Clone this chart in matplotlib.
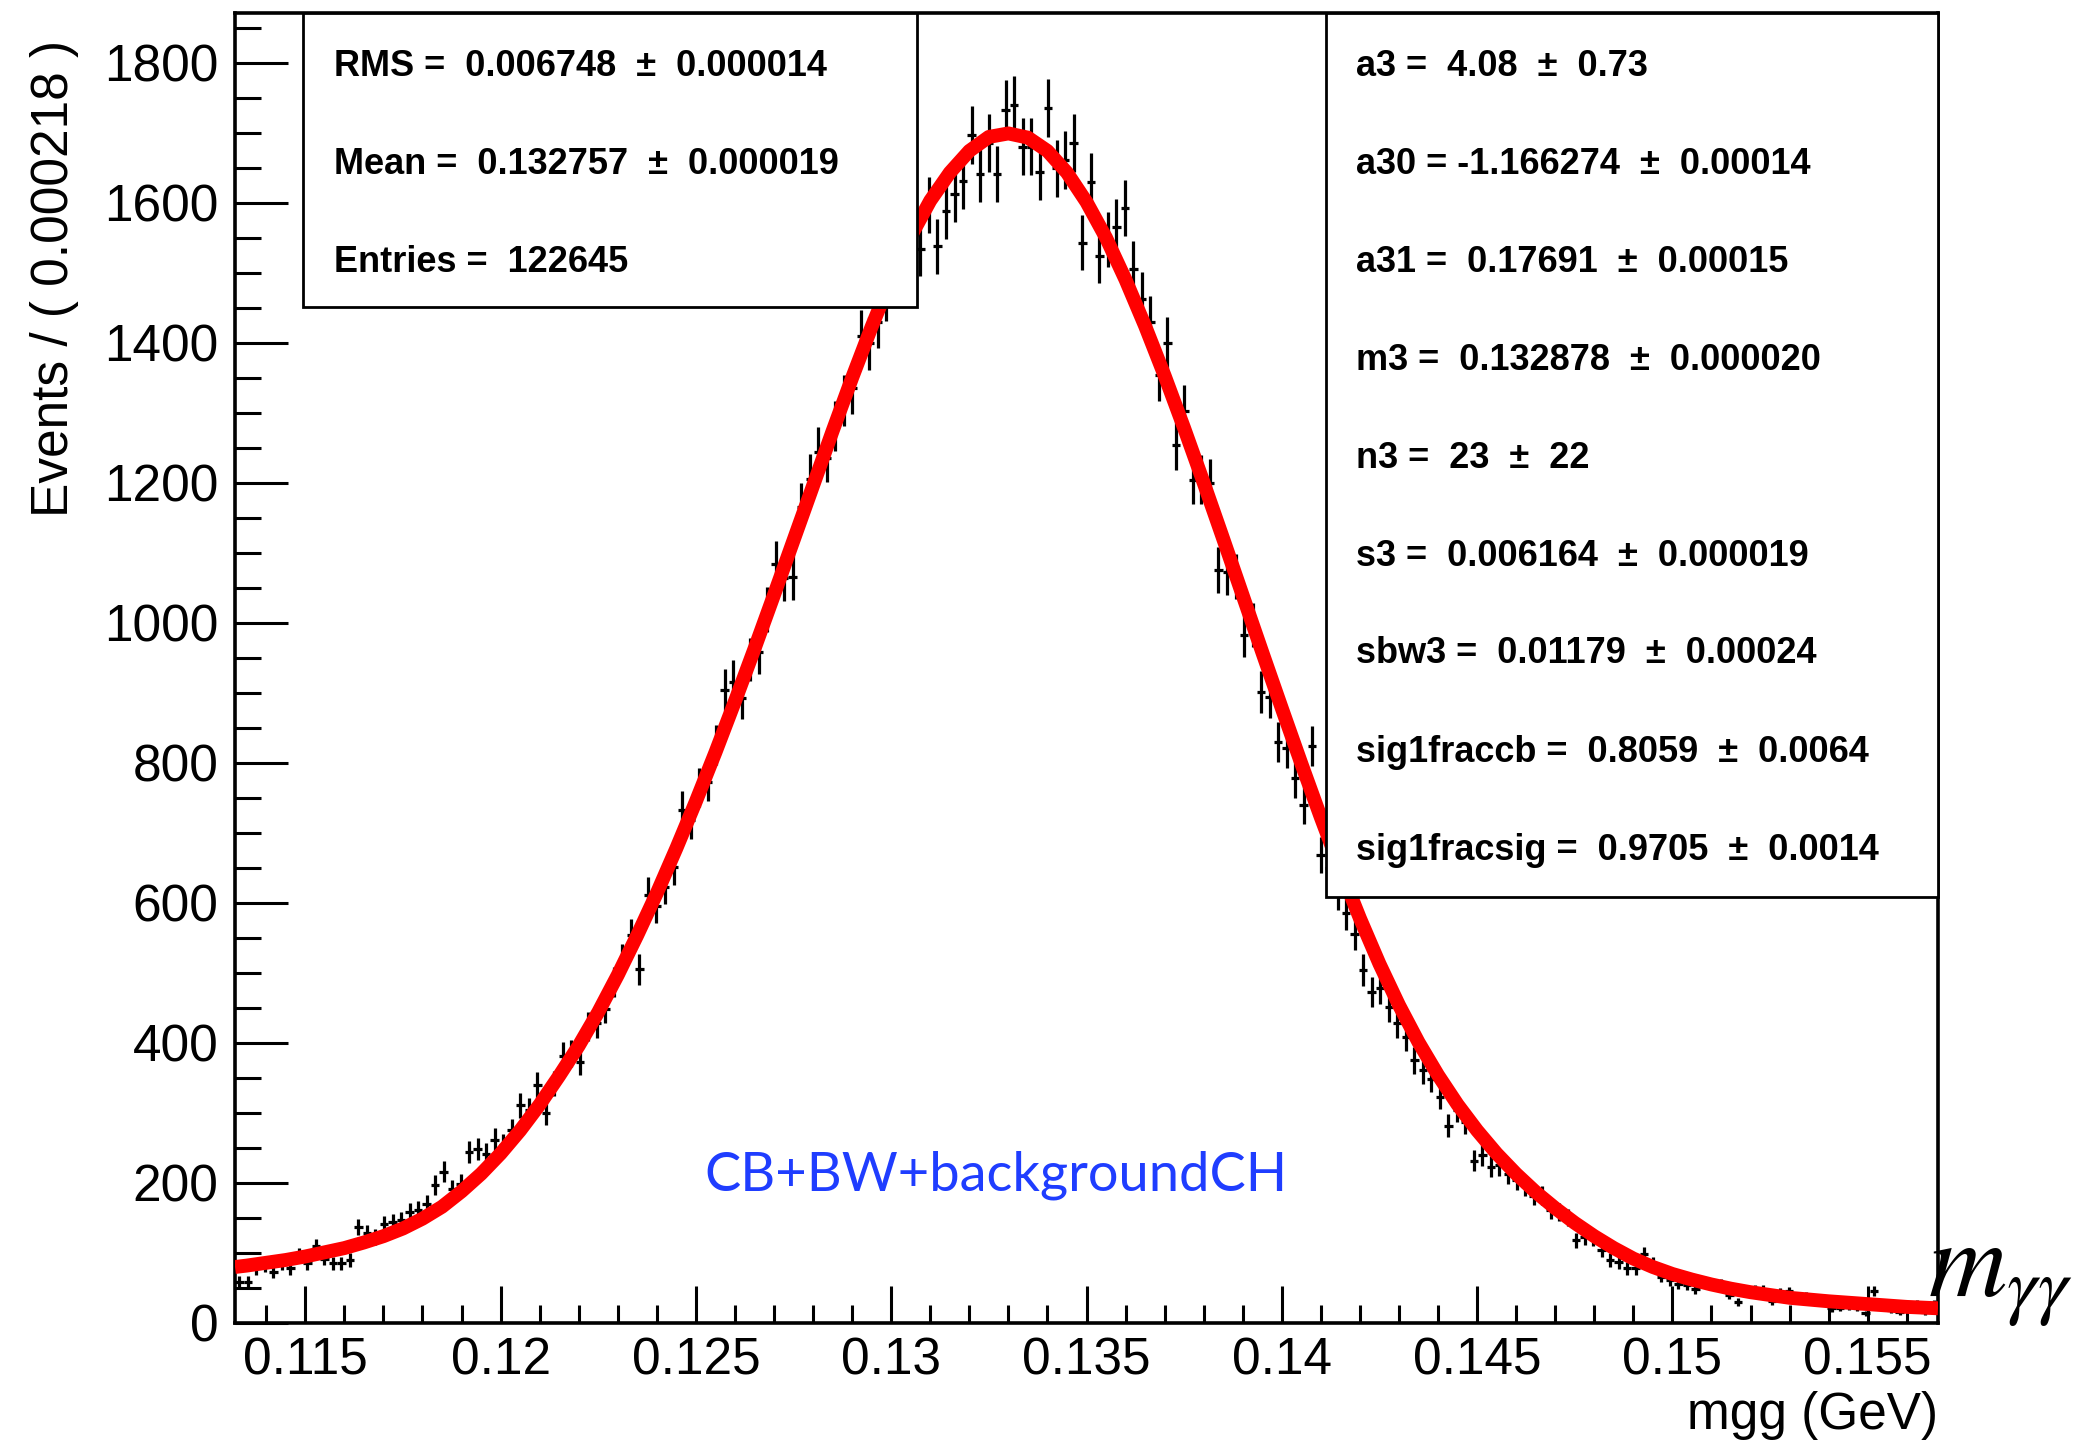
import numpy as np
import matplotlib
matplotlib.use("Agg")
import matplotlib.pyplot as plt
from matplotlib.patches import Rectangle

plt.rcParams['font.family'] = ['Liberation Sans', 'DejaVu Sans']
plt.rcParams['mathtext.fontset'] = 'stix'

# histogram: 200 bins of 0.000218 from 0.1132
x_lo = 0.1132
bin_w = 0.000218
counts = [59, 59, 78, 82, 73, 85, 78, 97, 85, 110,
          92, 85, 85, 90, 137, 128, 123, 141, 144, 147,
          159, 161, 170, 197, 216, 191, 199, 244, 249, 242,
          262, 254, 275, 311, 304, 340, 300, 342, 382, 385,
          373, 423, 428, 449, 487, 518, 554, 505, 612, 595,
          623, 651, 733, 718, 765, 773, 825, 904, 916, 893,
          948, 958, 1019, 1084, 1064, 1065, 1165, 1206, 1244, 1236,
          1281, 1317, 1335, 1409, 1399, 1430, 1470, 1500, 1525, 1545,
          1534, 1597, 1538, 1588, 1612, 1631, 1697, 1641, 1685, 1641,
          1733, 1740, 1680, 1680, 1644, 1735, 1649, 1661, 1685, 1543,
          1630, 1524, 1548, 1566, 1592, 1506, 1463, 1429, 1354, 1400,
          1254, 1303, 1204, 1205, 1200, 1076, 1073, 1066, 982, 997,
          901, 894, 830, 821, 778, 740, 824, 668, 650, 615,
          585, 556, 504, 473, 478, 451, 428, 409, 375, 361,
          349, 323, 282, 304, 287, 232, 240, 223, 225, 213,
          204, 195, 182, 182, 161, 159, 151, 118, 123, 121,
          104, 90, 87, 78, 78, 99, 85, 66, 61, 56,
          54, 49, 59, 56, 55, 40, 30, 47, 47, 47,
          32, 44, 45, 38, 38, 35, 34, 21, 22, 23,
          22, 14, 46, 29, 18, 16, 22, 28, 16, 27]

# fitted pdf (CB+BW+background)
fit_x = [0.1132, 0.1135, 0.114, 0.1145, 0.115, 0.1155, 0.116, 0.1165, 0.117, 0.1175,
         0.118, 0.1185, 0.119, 0.1195, 0.120, 0.1205, 0.121, 0.1215, 0.122, 0.1225,
         0.123, 0.1235, 0.124, 0.1245, 0.125, 0.1255, 0.126, 0.1265, 0.127, 0.1275,
         0.128, 0.1285, 0.129, 0.1295, 0.130, 0.1305, 0.131, 0.1315, 0.132, 0.1325,
         0.133, 0.1335, 0.134, 0.1345, 0.135, 0.1355, 0.136, 0.1365, 0.137, 0.1375,
         0.138, 0.1385, 0.139, 0.1395, 0.140, 0.1405, 0.141, 0.1415, 0.142, 0.1425,
         0.143, 0.1435, 0.144, 0.1445, 0.145, 0.1455, 0.146, 0.1465, 0.147, 0.1475,
         0.148, 0.1485, 0.149, 0.1495, 0.150, 0.1505, 0.151, 0.1515, 0.152, 0.153,
         0.154, 0.155, 0.156, 0.1568]
fit_y = [80, 82, 86, 90, 95, 101, 107, 115, 124, 135,
         149, 166, 188, 213, 242, 275, 312, 353, 396, 444,
         497, 554, 614, 678, 745, 815, 888, 963, 1040, 1118,
         1196, 1274, 1350, 1423, 1491, 1552, 1603, 1643, 1674, 1694,
         1699, 1693, 1674, 1643, 1601, 1550, 1490, 1424, 1353, 1278,
         1200, 1120, 1039, 958, 878, 799, 722, 648, 578, 513,
         454, 401, 354, 312, 275, 242, 213, 187, 164, 143,
         124, 107, 92, 80, 70, 62, 55, 49, 44, 36,
         31, 27, 23, 21]

stats_lines = ["RMS =  0.006748  \u00b1  0.000014",
               "Mean =  0.132757  \u00b1  0.000019",
               "Entries =  122645"]
param_lines = ["a3 =  4.08  \u00b1  0.73",
               "a30 = -1.166274  \u00b1  0.00014",
               "a31 =  0.17691  \u00b1  0.00015",
               "m3 =  0.132878  \u00b1  0.000020",
               "n3 =  23  \u00b1  22",
               "s3 =  0.006164  \u00b1  0.000019",
               "sbw3 =  0.01179  \u00b1  0.00024",
               "sig1fraccb =  0.8059  \u00b1  0.0064",
               "sig1fracsig =  0.9705  \u00b1  0.0014"]

W, H = 2086, 1447


def fx(X):
    return X / W


def fy(Y):
    return 1 - Y / H


fig = plt.figure(figsize=(W / 100, H / 100), dpi=100)
ax = fig.add_axes([fx(235), fy(1323), fx(1938) - fx(235), fy(13) - fy(1323)])

centers = x_lo + (np.arange(len(counts)) + 0.5) * bin_w
c = np.array(counts, dtype=float)
ax.errorbar(centers, c, yerr=np.sqrt(c), xerr=bin_w / 2, fmt='none',
            ecolor='black', elinewidth=2.3, capsize=0, zorder=2)
ax.plot(fit_x, fit_y, color='#ff0000', lw=10, solid_capstyle='butt',
        solid_joinstyle='round', zorder=3)

ax.set_xlim(0.1132, 0.1568)
ax.set_ylim(0, 1871)
ax.set_xticks([0.115, 0.12, 0.125, 0.13, 0.135, 0.14, 0.145, 0.15, 0.155])
ax.set_xticklabels(['0.115', '0.12', '0.125', '0.13', '0.135', '0.14', '0.145', '0.15', '0.155'])
ax.set_xticks(np.arange(0.114, 0.157, 0.001), minor=True)
ax.set_yticks(np.arange(0, 1801, 200))
ax.set_yticks(np.arange(0, 1851, 50), minor=True)
ax.tick_params(axis='both', which='both', direction='in', top=False, right=False,
               width=2.2, labelsize=37, colors='black')
ax.tick_params(axis='x', which='major', length=27, pad=10)
ax.tick_params(axis='x', which='minor', length=13)
ax.tick_params(axis='y', which='major', length=38, pad=12)
ax.tick_params(axis='y', which='minor', length=19)
for s in ax.spines.values():
    s.set_linewidth(2.6)

fig.text(fx(55), fy(40), "Events / ( 0.000218 )", rotation=90, ha='center', va='top', fontsize=37)
fig.text(fx(1938), fy(1416), "mgg (GeV)", ha='right', va='center', fontsize=37)
fig.text(fx(1928), fy(1298), r'$m_{\gamma\gamma}$', ha='left', va='baseline', fontsize=78)

# stat boxes
fig.add_artist(Rectangle((fx(303), fy(307)), fx(917) - fx(303), fy(13) - fy(307),
                         transform=fig.transFigure, facecolor='white', edgecolor='black',
                         lw=2.0, zorder=5))
fig.add_artist(Rectangle((fx(1326), fy(897)), fx(1938) - fx(1326), fy(13) - fy(897),
                         transform=fig.transFigure, facecolor='white', edgecolor='black',
                         lw=2.0, zorder=5))
for i, line in enumerate(stats_lines):
    fig.text(fx(334), fy(66 + i * 98), line, ha='left', va='center', fontsize=26,
             fontweight='bold', zorder=6)
for i, line in enumerate(param_lines):
    fig.text(fx(1356), fy(66 + i * 98), line, ha='left', va='center', fontsize=26,
             fontweight='bold', zorder=6)

fig.text(fx(996), fy(1175), "CB+BW+backgroundCH", ha='center', va='center', fontsize=39,
         color='#1f3dff', family=['Lato', 'DejaVu Sans'], zorder=6)

fig.savefig("out.png", dpi=100)
